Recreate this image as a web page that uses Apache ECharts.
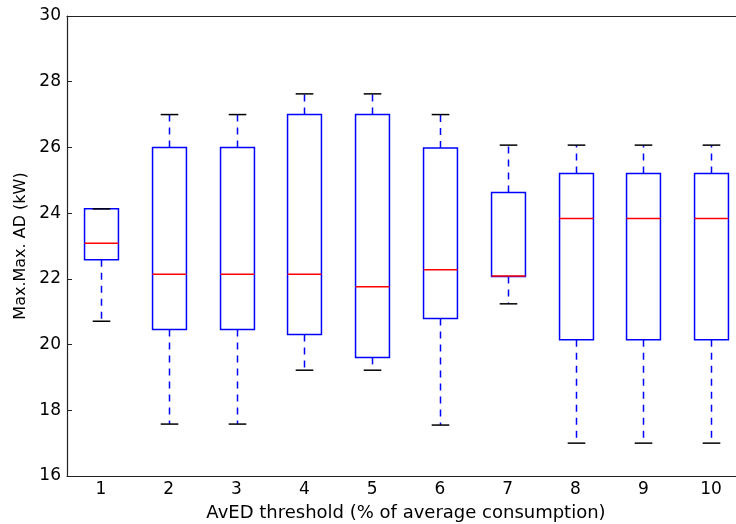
<!DOCTYPE html>
<html>
<head>
<meta charset="utf-8">
<script src="https://cdn.jsdelivr.net/npm/echarts@6/dist/echarts.min.js"></script>
<style>
  html, body { margin: 0; padding: 0; background: #fff; }
  #chart { width: 736px; height: 524px; }
</style>
</head>
<body>
<div id="chart"></div>
<script>
// thresholds on the x axis
const categories = ['1', '2', '3', '4', '5', '6', '7', '8', '9', '10']
// box statistics (kW)
const whiskerLow = [20.71, 17.58, 17.58, 19.22, 19.22, 17.55, 21.24, 17.0, 17.0, 17.0]
const quartile1 = [22.58, 20.46, 20.46, 20.31, 19.61, 20.79, 22.07, 20.15, 20.15, 20.15]
const medians = [23.08, 22.14, 22.14, 22.14, 21.76, 22.28, 22.09, 23.84, 23.84, 23.84]
const quartile3 = [24.13, 26.0, 26.0, 27.0, 27.0, 25.98, 24.63, 25.21, 25.21, 25.21]
const whiskerHigh = [24.13, 27.0, 27.0, 27.63, 27.63, 27.0, 26.07, 26.07, 26.07, 26.07]
const yTicks = [16, 18, 20, 22, 24, 26, 28, 30]

const font = 'DejaVu Sans'
const axisColor = '#222'

let boxData = categories.map((c, i) => [i, whiskerLow[i], quartile1[i], medians[i], quartile3[i], whiskerHigh[i]])

function renderBox(params, api) {
  let idx = api.value(0)
  let band = api.size([1, 0])[0]
  let half = band * 0.25
  let capHalf = band * 0.13
  let pLow = api.coord([idx, api.value(1)])
  let pQ1 = api.coord([idx, api.value(2)])
  let pMed = api.coord([idx, api.value(3)])
  let pQ3 = api.coord([idx, api.value(4)])
  let pHigh = api.coord([idx, api.value(5)])
  let x = Math.round(pMed[0]) + 0.5
  let dashed = { stroke: '#0000ff', lineWidth: 1.5, lineDash: [7, 6] }
  return {
    type: 'group',
    children: [
      { type: 'line', shape: { x1: x, y1: pQ1[1], x2: x, y2: pLow[1] }, style: dashed },
      { type: 'line', shape: { x1: x, y1: pQ3[1], x2: x, y2: pHigh[1] }, style: dashed },
      {
        type: 'rect',
        shape: { x: x - half, y: pQ3[1], width: half * 2, height: pQ1[1] - pQ3[1] },
        style: { fill: null, stroke: '#0000ff', lineWidth: 1.5 }
      },
      { type: 'line', shape: { x1: x - half, y1: pMed[1], x2: x + half, y2: pMed[1] }, style: { stroke: '#ff0000', lineWidth: 1.5 } },
      { type: 'line', shape: { x1: x - capHalf, y1: pLow[1], x2: x + capHalf, y2: pLow[1] }, style: { stroke: '#000', lineWidth: 1.5 } },
      { type: 'line', shape: { x1: x - capHalf, y1: pHigh[1], x2: x + capHalf, y2: pHigh[1] }, style: { stroke: '#000', lineWidth: 1.5 } }
    ]
  }
}

let chart = echarts.init(document.getElementById('chart'))
let option = {
  animation: false,
  backgroundColor: '#fff',
  // plot runs past the right edge of the picture (cropped)
  grid: { left: 67, top: 16, width: 678, bottom: 48, outerBoundsMode: 'none', containLabel: false },
  xAxis: [
    {
      type: 'category',
      data: categories,
      boundaryGap: true,
      name: 'AvED threshold (% of average consumption)',
      nameLocation: 'middle',
      nameGap: 28,
      nameTextStyle: { fontFamily: font, fontSize: 18, color: '#000' },
      axisLine: { lineStyle: { color: axisColor, width: 1.2 } },
      axisTick: { inside: true, alignWithLabel: true, length: 5, lineStyle: { color: axisColor } },
      axisLabel: { fontFamily: font, fontSize: 17, color: '#000', margin: 5 },
      splitLine: { show: false }
    },
    {
      type: 'category',
      data: categories,
      position: 'top',
      boundaryGap: true,
      axisLine: { lineStyle: { color: axisColor, width: 1.2 } },
      axisTick: { inside: true, alignWithLabel: true, length: 5, lineStyle: { color: axisColor } },
      axisLabel: { show: false },
      splitLine: { show: false }
    }
  ],
  yAxis: {
    type: 'value',
    min: yTicks[0],
    max: yTicks[yTicks.length - 1],
    interval: 2,
    name: 'Max.Max. AD (kW)',
    nameLocation: 'middle',
    nameGap: 38,
    nameTextStyle: { fontFamily: font, fontSize: 16, color: '#000' },
    axisLine: { show: true, lineStyle: { color: axisColor, width: 1.2 } },
    axisTick: { show: true, inside: true, length: 5, lineStyle: { color: axisColor } },
    axisLabel: { fontFamily: font, fontSize: 17, color: '#000', margin: 6 },
    splitLine: { show: false }
  },
  series: [
    {
      type: 'custom',
      renderItem: renderBox,
      encode: { x: 0, y: [1, 2, 3, 4, 5] },
      data: boxData,
      clip: false
    }
  ]
}
chart.setOption(option)
</script>
</body>
</html>
